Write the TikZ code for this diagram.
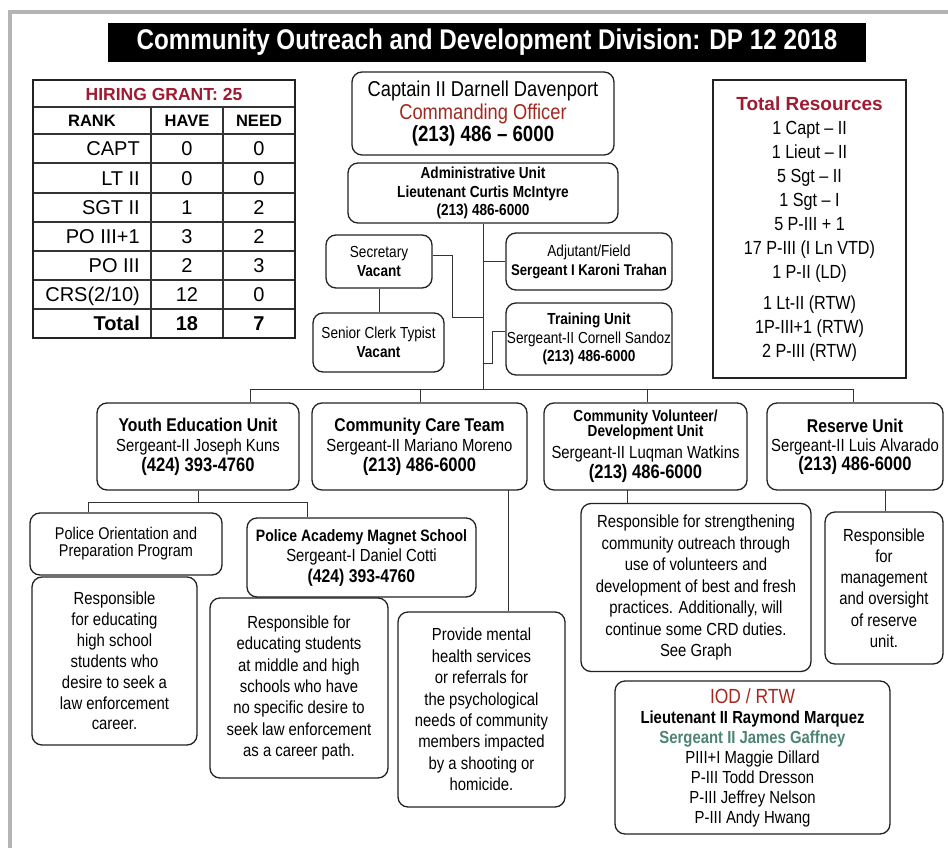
\documentclass[tikz,border=0pt]{standalone}
\usepackage{fontspec}
\setmainfont{Liberation Sans}
\newfontfamily\cn{Liberation Sans}[FakeStretch=0.85]
\definecolor{crim}{HTML}{9E1B32}
\definecolor{brick}{HTML}{A3291F}
\definecolor{sgtgreen}{HTML}{4D8473}
\definecolor{boxc}{HTML}{222222}
\definecolor{linec}{HTML}{333333}
\definecolor{framec}{HTML}{B4B4B4}
\newcommand{\fz}[2]{\fontsize{#1}{#2}\selectfont}
\tikzset{
  rbox/.style={draw=boxc, line width=1.3pt, rounded corners=10pt, align=center, inner sep=0pt, fill=white},
  sqbox/.style={draw=boxc, line width=1.8pt, align=center, inner sep=0pt, fill=white},
  conn/.style={draw=linec, line width=1pt},
  tline/.style={draw=linec, line width=1.1pt},
  tborder/.style={draw=boxc, line width=1.8pt},
  cell/.style={anchor=base, inner sep=0pt, font=\fz{20}{24}},
}
\begin{document}
\begin{tikzpicture}[x=1pt,y=-1pt]
\useasboundingbox (0,0) rectangle (948,848);
\fill[white] (0,0) rectangle (948,848);
\draw[framec, line width=3.5pt] (948,12) -- (10,12) -- (10,848);

% title
\node[fill=black, minimum width=758pt, minimum height=39pt, inner sep=0pt, text=white,
      font=\cn\bfseries\fz{28.5}{30}] (title) at (487,42.5)
  {Community Outreach and Development Division: DP 12 2018};

% ---------- hiring table ----------
\draw[tline] (33,107) -- (295,107);
\foreach \yy in {134,163,193,222,251,280,309} \draw[tline] (33,\yy) -- (295,\yy);
\draw[tline] (151,107) -- (151,338);
\draw[tline] (223,107) -- (223,338);
\draw[tborder] (33,80) rectangle (295,338);
\node[anchor=base, inner sep=0pt, font=\bfseries\fz{17.5}{20}, text=crim] (hg) at (164,101) {HIRING GRANT: 25};
\node[anchor=base, inner sep=0pt, font=\bfseries\fz{16.5}{20}] (hrank) at (92,127) {RANK};
\node[anchor=base, inner sep=0pt, font=\bfseries\fz{16.5}{20}] (hhave) at (187,127) {HAVE};
\node[anchor=base, inner sep=0pt, font=\bfseries\fz{16.5}{20}] (hneed) at (259,127) {NEED};
\foreach \nm/\h/\n/\yy [count=\i] in {CAPT/0/0/148.5, LT II/0/0/178, SGT II/1/2/207.5, PO III+1/3/2/236.5, PO III/2/3/265.5, {CRS(2/10)}/12/0/294.5}{
  \node[cell, anchor=base east] (rk\i) at (140,\yy+7.2) {\nm};
  \node[cell] (hv\i) at (187,\yy+7.2) {\h};
  \node[cell] (nd\i) at (259,\yy+7.2) {\n};
}
\node[cell, anchor=base east, font=\bfseries\fz{20}{24}] (rkt) at (140,330.7) {Total};
\node[cell, font=\bfseries\fz{20}{24}] (hvt) at (187,330.7) {18};
\node[cell, font=\bfseries\fz{20}{24}] (ndt) at (259,330.7) {7};

% ---------- connectors ----------
\coordinate (trunk) at (483,389);
\coordinate (barL) at (250,389);
\coordinate (barR) at (853,389);
\coordinate (d2) at (420,389);
\coordinate (d3) at (647,389);
\coordinate (tA) at (483,363);
\coordinate (tB) at (492,363);
\coordinate (tC) at (492,331);
\coordinate (sA) at (452,255);
\coordinate (sB) at (452,317);
\coordinate (sC) at (483,317);
\coordinate (j1) at (88,502);
\coordinate (j2) at (307,502);
\coordinate (c1) at (508,490);
\coordinate (c2) at (627,490);
\coordinate (c3) at (885,490);

% ---------- boxes ----------
\node[rbox, minimum width=262pt, minimum height=83pt, font=\cn\fz{21.5}{22.5}] (capt) at (483,113.5)
  {Captain II Darnell Davenport\\ \textcolor{brick}{Commanding Officer}\\ {\bfseries\fz{22}{22.5}(213) 486 – 6000}};
\node[rbox, minimum width=270pt, minimum height=60pt, font=\cn\bfseries\fz{16}{18.5}] (admin) at (483,193)
  {Administrative Unit\\ Lieutenant Curtis McIntyre\\ (213) 486-6000};

\draw[conn] (admin.south) -- (trunk);
\draw[conn] (barL) -- (barR);

\node[rbox, minimum width=106pt, minimum height=53pt, font=\cn\fz{16}{19}] (sec) at (379,261.5)
  {Secretary\\ \textbf{Vacant}};
\node[rbox, minimum width=131pt, minimum height=59pt, font=\cn\fz{16}{19}] (clerk) at (378.5,342.5)
  {Senior Clerk Typist\\ \textbf{Vacant}};
\node[rbox, minimum width=166pt, minimum height=57pt, font=\cn\fz{16}{19}] (adj) at (589,261.5)
  {Adjutant/Field\\ {\bfseries\fz{15.5}{19}Sergeant I Karoni Trahan}};
\node[rbox, minimum width=166pt, minimum height=72pt, font=\cn\fz{16}{18.5}] (train) at (589,339)
  {\textbf{Training Unit}\\ Sergeant-II Cornell Sandoz\\ \textbf{(213) 486-6000}};

\draw[conn] (adj.west) -- (adj.west -| trunk);
\draw[conn] (tA) -- (tB) -- (tC) -- (train.west |- tC);
\draw[conn] (sec.east |- sA) -- (sA) -- (sB) -- (sC);
\draw[conn] (sec.south) -- (sec.south |- clerk.north);

% total resources
\node[sqbox, minimum width=193pt, minimum height=298pt, font=\cn\fz{19}{24}] (tres) at (809.5,229)
  {{\rmfamily\bfseries\fz{19}{24}\textcolor{crim}{Total Resources}}\\
   1 Capt – II\\ 1 Lieut – II\\ 5 Sgt – II\\ 1 Sgt – I\\ 5 P-III + 1\\ 17 P-III (I Ln VTD)\\ 1 P-II (LD)\\[7pt]
   1 Lt-II (RTW)\\ 1P-III+1 (RTW)\\ 2 P-III (RTW)};

% units
\node[rbox, minimum width=202pt, minimum height=87pt, font=\cn\fz{17.5}{20}] (youth) at (198,446.5)
  {{\bfseries\fz{18.5}{20}Youth Education Unit}\\ Sergeant-II Joseph Kuns\\ {\bfseries\fz{19.5}{20}(424) 393-4760}};
\node[rbox, minimum width=215pt, minimum height=87pt, font=\cn\fz{17.5}{20}] (cct) at (419.5,446.5)
  {{\bfseries\fz{18.5}{20}Community Care Team}\\ Sergeant-II Mariano Moreno\\ {\bfseries\fz{19.5}{20}(213) 486-6000}};
\node[rbox, minimum width=203pt, minimum height=87pt, font=\cn\fz{17.5}{20}] (cv) at (645.5,446.5)
  {{\bfseries\fz{16}{15}Community Volunteer/}\\[-5pt] {\bfseries\fz{16}{15}Development Unit}\\[2pt] Sergeant-II Luqman Watkins\\ {\bfseries\fz{19.5}{20}(213) 486-6000}};
\node[rbox, minimum width=176pt, minimum height=87pt, font=\cn\fz{17.5}{19}] (res) at (855,446.5)
  {{\bfseries\fz{18.5}{19}Reserve Unit}\\ Sergeant-II Luis Alvarado\\ {\bfseries\fz{19.5}{19}(213) 486-6000}};

\draw[conn] (barL) -- (barL |- youth.north);
\draw[conn] (d2) -- (d2 |- cct.north);
\draw[conn] (d3) -- (d3 |- cv.north);
\draw[conn] (barR) -- (barR |- res.north);

% sub boxes
\node[rbox, minimum width=192pt, minimum height=62pt, font=\cn\fz{17}{17}] (popp) at (126,544)
  {Police Orientation and\\ Preparation Program};
\node[rbox, minimum width=165pt, minimum height=168pt, font=\cn\fz{17.5}{20.9}] (resp1) at (114.5,661)
  {Responsible\\ for educating\\ high school\\ students who\\ desire to seek a\\ law enforcement\\ career.};
\node[rbox, minimum width=229pt, minimum height=79pt, font=\cn\fz{17.5}{20.5}] (pams) at (361.5,557.5)
  {{\bfseries\fz{16.5}{20.5}Police Academy Magnet School}\\ Sergeant-I Daniel Cotti\\ {\bfseries\fz{18.5}{20.5}(424) 393-4760}};
\node[rbox, minimum width=178pt, minimum height=180pt, font=\cn\fz{17.5}{21.3}] (resp2) at (299,688)
  {Responsible for\\ educating students\\ at middle and high\\ schools who have\\ no specific desire to\\ seek law enforcement\\ as a career path.};
\node[rbox, minimum width=167pt, minimum height=195pt, font=\cn\fz{17.5}{21.4}] (mental) at (481.5,709.5)
  {Provide mental\\ health services\\ or referrals for\\ the psychological\\ needs of community\\ members impacted\\ by a shooting or\\ homicide.};
\node[rbox, minimum width=230pt, minimum height=168pt, font=\cn\fz{17.5}{21.5}] (cvr) at (696,587.5)
  {Responsible for strengthening\\ community outreach through\\ use of volunteers and\\ development of best and fresh\\ practices. Additionally, will\\ continue some CRD duties.\\ See Graph};
\node[rbox, minimum width=118pt, minimum height=152pt, font=\cn\fz{17.5}{21.2}] (resr) at (884,588)
  {Responsible\\ for\\ management\\ and oversight\\ of reserve\\ unit.};
\node[rbox, minimum width=275pt, minimum height=153pt, font=\cn\fz{17.5}{20}] (iod) at (752.5,757.5)
  {{\fz{20.5}{20}\textcolor{brick}{IOD / RTW}}\\ \textbf{Lieutenant II Raymond Marquez}\\ {\bfseries\color{sgtgreen}Sergeant II James Gaffney}\\
   PIII+I Maggie Dillard\\ P-III Todd Dresson\\ P-III Jeffrey Nelson\\ P-III Andy Hwang};

\draw[conn] (youth.south) -- (youth.south |- j1);
\draw[conn] (popp.north -| j1) -- (j1) -- (j2) -- (pams.north -| j2);
\draw[conn] (c1) -- (c1 |- mental.north);
\draw[conn] (c2) -- (c2 |- cvr.north);
\draw[conn] (c3) -- (c3 |- resr.north);
\end{tikzpicture}
\end{document}
